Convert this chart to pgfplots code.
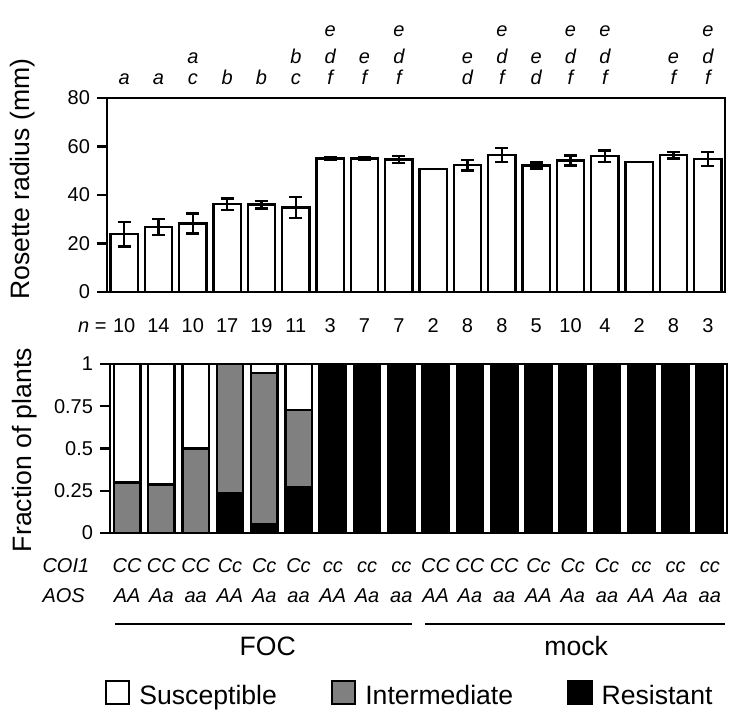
\documentclass[border=0pt]{standalone}
\usepackage{fontspec}
\setmainfont{Liberation Sans}
\usepackage{pgfplots}
\usepackage{pgfplotstable}
\pgfplotsset{compat=1.18}
\definecolor{interm}{RGB}{128,128,128}
\newcommand\sm{\fontsize{10bp}{12bp}\selectfont}
\newcommand\bg{\fontsize{13.3bp}{16bp}\selectfont}
\newcommand\Lt[3]{\node[anchor=base,font=\sm\itshape,inner sep=0pt] at (axis cs:#1,#2) {#3};}
\newcommand\Nn[2]{\node[anchor=base,font=\sm,inner sep=0pt] at (axis cs:#1,-16.9) {#2};}
\newcommand\G[3]{\node[anchor=base,font=\sm\itshape,inner sep=0pt] at (axis cs:#1,-0.231) {#2};
  \node[anchor=base,font=\sm\itshape,inner sep=0pt] at (axis cs:#1,-0.414) {#3};}

\pgfplotstableread{
x y e
0 23.8 5.0
1 26.8 3.4
2 28.3 4.1
3 36.2 2.3
4 36.0 1.6
5 34.8 4.4
6 55.1 0.6
7 55.1 0.6
8 54.6 1.4
9 50.7 0
10 52.3 2.2
11 56.5 3.0
12 52.2 1.2
13 54.2 2.1
14 56.0 2.3
15 53.5 0
16 56.4 1.4
17 54.9 2.9
}\radiustab

\pgfplotstableread{
x R I S
0 0 0.300 0.700
1 0 0.286 0.714
2 0 0.500 0.500
3 0.235 0.765 0
4 0.053 0.895 0.052
5 0.273 0.454 0.273
6 1 0 0
7 1 0 0
8 1 0 0
9 1 0 0
10 1 0 0
11 1 0 0
12 1 0 0
13 1 0 0
14 1 0 0
15 1 0 0
16 1 0 0
17 1 0 0
}\fractab

\begin{document}
\begin{tikzpicture}
\useasboundingbox (-53.5bp,-213.5bp) rectangle (321.5bp,146bp);
\begin{axis}[
  at={(0bp,0bp)}, anchor=south west, scale only axis,
  width=309bp, height=97bp,
  xmin=-0.5, xmax=17.5, ymin=0, ymax=80,
  xtick=\empty, ytick={0,20,40,60,80},
  ytick pos=left, tick align=outside, major tick length=5bp,
  tick style={black, line width=1.2bp},
  axis line style={line width=1.2bp},
  ticklabel style={font=\sm},
  /pgf/number format/assume math mode=true,
  ylabel={\bg Rosette radius (mm)},
  ylabel style={at={(rel axis cs:-0.136,0.582)}, anchor=center},
  clip=false, ybar, bar width=0.8,
]
\addplot[draw=black, fill=white, line width=1.2bp,
  error bars/.cd, y dir=both, y explicit,
  error bar style={line width=1.2bp, black},
  error mark options={rotate=90, mark size=3.3bp, line width=1.2bp, black}]
  table[x=x, y=y, y error=e] {\radiustab};
% significance letters
\Lt{0}{85.4}{a}
\Lt{1}{85.4}{a}
\Lt{2}{94.4}{a}\Lt{2}{85.4}{c}
\Lt{3}{85.4}{b}
\Lt{4}{85.4}{b}
\Lt{5}{94.4}{b}\Lt{5}{85.4}{c}
\Lt{6}{105.2}{e}\Lt{6}{94.4}{d}\Lt{6}{85.4}{f}
\Lt{7}{94.4}{e}\Lt{7}{85.4}{f}
\Lt{8}{105.2}{e}\Lt{8}{94.4}{d}\Lt{8}{85.4}{f}
\Lt{10}{94.4}{e}\Lt{10}{85.4}{d}
\Lt{11}{105.2}{e}\Lt{11}{94.4}{d}\Lt{11}{85.4}{f}
\Lt{12}{94.4}{e}\Lt{12}{85.4}{d}
\Lt{13}{105.2}{e}\Lt{13}{94.4}{d}\Lt{13}{85.4}{f}
\Lt{14}{105.2}{e}\Lt{14}{94.4}{d}\Lt{14}{85.4}{f}
\Lt{16}{94.4}{e}\Lt{16}{85.4}{f}
\Lt{17}{105.2}{e}\Lt{17}{94.4}{d}\Lt{17}{85.4}{f}
% sample sizes
\node[anchor=base east,font=\sm,inner sep=0pt] at (axis cs:-0.5,-16.9) {\textit{n} =};
\Nn{0}{10}\Nn{1}{14}\Nn{2}{10}\Nn{3}{17}\Nn{4}{19}\Nn{5}{11}
\Nn{6}{3}\Nn{7}{7}\Nn{8}{7}\Nn{9}{2}\Nn{10}{8}\Nn{11}{8}
\Nn{12}{5}\Nn{13}{10}\Nn{14}{4}\Nn{15}{2}\Nn{16}{8}\Nn{17}{3}
\end{axis}

\begin{axis}[
  at={(1.5bp,-120.5bp)}, anchor=south west, scale only axis,
  width=308.5bp, height=84.5bp,
  xmin=-0.5, xmax=17.5, ymin=0, ymax=1,
  xtick=\empty, ytick={0,0.25,0.5,0.75,1}, yticklabels={0,0.25,0.5,0.75,1},
  ytick pos=left, tick align=outside, major tick length=5bp,
  tick style={black, line width=1.2bp},
  axis line style={line width=1.2bp},
  ticklabel style={font=\sm},
  /pgf/number format/assume math mode=true,
  ylabel={\bg Fraction of plants},
  ylabel style={at={(rel axis cs:-0.138,0.491)}, anchor=center},
  clip=false, ybar stacked, bar width=0.77,
  legend columns=3, reverse legend,
  legend image code/.code={\draw[#1, line width=1.2bp] (0bp,0bp) rectangle (11.5bp,11.5bp);},
  legend style={at={(rel axis cs:-0.0081,-0.870)}, anchor=north west,
    draw=none, fill=none, inner sep=0pt, outer sep=0pt, font=\bg,
    cells={anchor=base west}, nodes={inner sep=0pt},
    /tikz/every odd column/.append style={column sep=4.5bp},
    /tikz/every even column/.append style={column sep=27bp}},
]
\addplot[fill=black, draw=black, line width=1.2bp] table[x=x, y=R] {\fractab};
\addlegendentry{Resistant}
\addplot[fill=interm, draw=black, line width=1.2bp] table[x=x, y=I] {\fractab};
\addlegendentry{Intermediate}
\addplot[fill=white, draw=black, line width=1.2bp] table[x=x, y=S] {\fractab};
\addlegendentry{Susceptible}
% genotype labels
\node[anchor=base west,font=\sm\itshape,inner sep=0pt] at (rel axis cs:-0.110,-0.231) {COI1};
\node[anchor=base west,font=\sm\itshape,inner sep=0pt] at (rel axis cs:-0.110,-0.414) {AOS};
\G{0}{CC}{AA}\G{1}{CC}{Aa}\G{2}{CC}{aa}
\G{3}{Cc}{AA}\G{4}{Cc}{Aa}\G{5}{Cc}{aa}
\G{6}{cc}{AA}\G{7}{cc}{Aa}\G{8}{cc}{aa}
\G{9}{CC}{AA}\G{10}{CC}{Aa}\G{11}{CC}{aa}
\G{12}{Cc}{AA}\G{13}{Cc}{Aa}\G{14}{Cc}{aa}
\G{15}{cc}{AA}\G{16}{cc}{Aa}\G{17}{cc}{aa}
\draw[line width=1.2bp] (axis cs:-0.354,-0.538) -- (axis cs:8.31,-0.538);
\draw[line width=1.2bp] (axis cs:8.69,-0.538) -- (axis cs:17.44,-0.538);
\node[anchor=base,font=\bg,inner sep=0pt] at (axis cs:4.1,-0.722) {FOC};
\node[anchor=base,font=\bg,inner sep=0pt] at (axis cs:13.1,-0.722) {mock};
\end{axis}
\end{tikzpicture}
\end{document}
